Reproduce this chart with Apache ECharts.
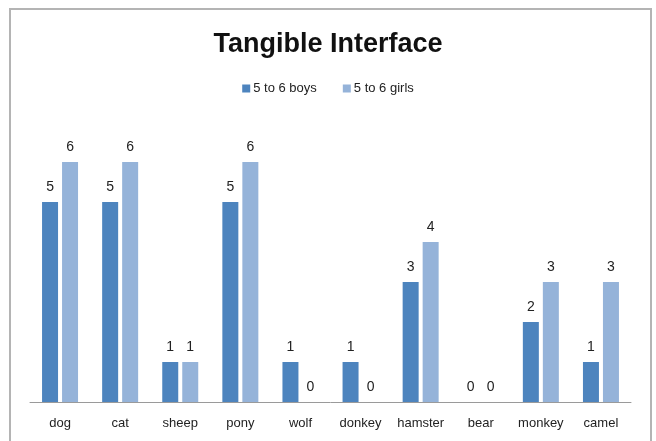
<!DOCTYPE html>
<html>
<head>
<meta charset="utf-8">
<script src="https://cdn.jsdelivr.net/npm/echarts@6/dist/echarts.min.js"></script>
<style>
  html, body { margin: 0; padding: 0; background: #fff; }
  #chart { width: 656px; height: 441px; }
</style>
</head>
<body>
<div id="chart"></div>
<script>
const categories = ['dog', 'cat', 'sheep', 'pony', 'wolf', 'donkey', 'hamster', 'bear', 'monkey', 'camel']
const boys = [5, 5, 1, 5, 1, 1, 3, 0, 2, 1]
const girls = [6, 6, 1, 6, 0, 0, 4, 0, 3, 3]
const seriesNames = ['5 to 6 boys', '5 to 6 girls']

const font = "'Liberation Sans Narrow', 'Arial Narrow', 'Liberation Sans', Arial, sans-serif"

const chart = echarts.init(document.getElementById('chart'))

const labelStyle = {
  show: true,
  position: 'top',
  distance: 8,
  color: '#222',
  fontSize: 14,
  fontFamily: font
}

chart.setOption({
  animation: false,
  title: {
    text: 'Tangible Interface',
    left: 'center',
    top: 26,
    textStyle: {
      fontSize: 27,
      fontWeight: 'bold',
      color: '#111',
      fontFamily: font
    }
  },
  legend: {
    top: 77,
    left: 'center',
    itemWidth: 8,
    itemHeight: 8,
    itemGap: 26,
    icon: 'rect',
    textStyle: { fontSize: 13, color: '#222', fontFamily: font, padding: [0, 0, 0, -2] },
    data: seriesNames
  },
  graphic: [{
    type: 'rect',
    shape: { x: 10, y: 9, width: 641, height: 440 },
    style: { fill: 'none', stroke: '#b4b4b4', lineWidth: 2 },
    silent: true
  }],
  grid: {
    left: 30,
    right: 25,
    top: 122,
    bottom: 39
  },
  xAxis: {
    type: 'category',
    data: categories,
    axisLine: { lineStyle: { color: '#9a9a9a', width: 1 } },
    axisTick: { show: false },
    axisLabel: {
      interval: 0,
      color: '#222',
      fontSize: 13,
      margin: 15,
      fontFamily: font
    }
  },
  yAxis: {
    type: 'value',
    min: 0,
    max: 7,
    interval: 1,
    show: false,
    splitLine: { show: false }
  },
  series: [
    {
      name: seriesNames[0],
      type: 'bar',
      data: boys,
      barWidth: 16,
      barGap: '25%',
      itemStyle: { color: '#4d84be' },
      label: labelStyle
    },
    {
      name: seriesNames[1],
      type: 'bar',
      data: girls,
      barWidth: 16,
      itemStyle: { color: '#95b3d9' },
      label: labelStyle
    }
  ]
})
</script>
</body>
</html>
